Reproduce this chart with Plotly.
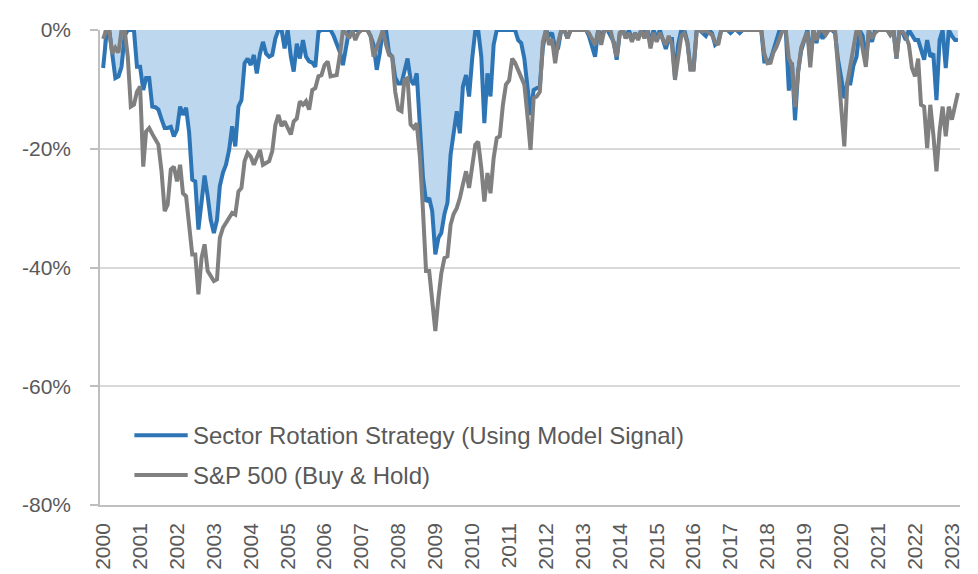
import pandas as pd
import plotly.graph_objects as go

# Monthly drawdowns (%), Jan 2000 .. Mar 2023
sector_rotation = [
    -6.4, -1, 0, -4, -8.1, -7.8, -6.2, -1, 0, 0, 0, -6.2,                      # 2000
    -6.2, -10.1, -8.1, -8.1, -12.9, -13, -13.4, -15, -16.5, -16.5, -16.3, -17.9,  # 2001
    -16.8, -12.9, -14.3, -13.1, -17.2, -25.2, -25.5, -33.6, -29, -24.5, -28, -32,  # 2002
    -34.2, -32, -26.3, -24, -22.7, -20.2, -16.2, -19.6, -12.9, -11.8, -5.6, -4.8,  # 2003
    -5.9, -4.2, -7.3, -4, -2, -4, -4.5, -4.2, -1.4, 0, 0, -3.1,                 # 2004
    0, -4.5, -7, -2.3, -4.8, -1.7, -4.5, -5.3, -5.5, -6.2, -0.3, 0,             # 2005
    0, 0, 0, -1, -2.3, -3.7, -5.9, -2.5, 0, 0, 0, 0,                           # 2006
    0, 0, 0, -1, -2.5, -6.7, -3.9, 0, 0, -3.9, -4.5, -8,                       # 2007
    -9, -9, -7, -4.8, -8.4, -9.2, -7.3, -16, -24.9, -28.9, -28.3, -30.5,        # 2008
    -37.8, -35, -34.2, -31, -29.1, -21, -17.6, -13.7, -17.4, -9.5, -7.6, -11.2,  # 2009
    -4.8, 0, 0, -4.5, -15.7, -7.3, -11.2, -2.5, 0, 0, 0, 0,                    # 2010
    0, 0, 0, -1.7, -2.2, -4.8, -9.2, -14.3, -10.1, -9.8, -9.5, -3,             # 2011
    0, -1, -0.5, -3, -3, 0, 0, -1.4, 0, 0, 0, 0,                               # 2012
    0, 0, -1, -3, -4.5, 0, -1, 0, 0, -1, -2, -5,                               # 2013
    -0.5, 0, -1.4, 0, -1.7, -0.5, -1.5, 0, -0.5, 0, -2, 0,                     # 2014
    -1.5, 0, -1.4, -3.2, -1.5, -1.5, -8, -2.5, 0, 0, -2, -6.5,                 # 2015
    -6.5, 0, 0, -0.5, -1, 0, -0.5, -2.5, -2, 0, 0, 0,                          # 2016
    -0.5, 0, 0, -0.5, 0, 0, 0, 0, 0, 0, 0, -5.3,                               # 2017
    -5.3, -5, -3.4, -2, 0, 0, 0, -10.2, -5.5, -15.2, -7, -3.5,                 # 2018
    -1.5, 0, -5, 0, -2.2, 0, -1.5, 0, 0, 0, -0.5, -5,                          # 2019
    -8, -11.5, -9, -9, -6, -4.5, 0, -1, -5.5, 0, -2, 0,                        # 2020
    0, 0, 0, 0, -0.8, 0, -4.8, 0, -0.5, -1.7, 0, -1,                           # 2021
    -1.7, -1.7, -3.4, -5, -1.7, -4.5, -4, -11.8, -1.7, 0, -6.4, 0,             # 2022
    -1, -1.7, -1.7,                                                            # 2023
]

sp500 = [
    -1.5, 0, 0, -4, -3, -3.8, 0, 0, -4.5, -12.9, -12.6, -10.4,                  # 2000
    -9.5, -23, -17.1, -16.5, -17.5, -18.5, -19.3, -23.8, -30.5, -29.4, -23.5, -23,  # 2001
    -25.5, -22.7, -27.5, -28, -32.5, -37.8, -37.8, -44.5, -38.4, -36.1, -40.6, -41.5,  # 2002
    -42.3, -42, -35, -33.3, -32.5, -31.5, -30.8, -31.1, -27.2, -26.6, -22.1, -20.7,  # 2003
    -21.3, -22.7, -21.5, -20.2, -22.7, -22.3, -22.1, -20.4, -16, -14.3, -16.2, -15.4,  # 2004
    -16.5, -17.6, -15.4, -14.9, -12, -12.6, -12, -13.4, -10.1, -9.8, -7.8, -7.6,  # 2005
    -5.9, -5.3, -7.8, -7.7, -7.6, -4.2, 0, -0.5, -1.4, 0, -1.7, -0.5,           # 2006
    0, 0, 0, -1, -4.5, -3, -1.4, 0, -2.5, -4.2, -4.5, -10.4,                    # 2007
    -13.4, -13.7, -8.4, -8.1, -15.9, -16.5, -15.7, -21.3, -30.5, -40.6, -40.6, -45.7,  # 2008
    -50.7, -45.1, -41, -38.4, -38.1, -32.8, -31, -30, -28.3, -26, -23.8, -26.6,  # 2009
    -22.7, -19.3, -18.8, -23.2, -28.9, -24.1, -27.5, -21.6, -18.2, -17.9, -12.6, -9.2,  # 2010
    -8.5, -4.8, -5.5, -6.7, -7.6, -9.2, -14.3, -20.2, -11.5, -11.2, -10.4, -2,   # 2011
    0, -2.5, -1.5, -5.6, -2, 0, 0, -1.4, 0, 0, 0, 0,                           # 2012
    0, 0, -0.5, -1.5, -2.5, 0, -2.5, 0, 0, 0, -2.3, -4.5,                      # 2013
    -0.5, 0, -1.4, -0.5, -2, -0.5, -1.7, 0, -1.4, 0, -3.1, -0.5,               # 2014
    -2, -0.5, -1.5, -2.5, -1, -2.5, -8.4, -4, -1, -0.5, -2.2, -6.7,            # 2015
    -6.7, 0, 0, -0.3, 0, -0.5, -0.8, -2, -2.5, 0, 0, 0,                        # 2016
    0, 0, 0, 0, 0, 0, 0, 0, 0, 0, 0, -4,                                       # 2017
    -5.6, -5.5, -3.8, -2.8, -1.5, 0, 0, -4.8, -5.9, -13, -7, -3,               # 2018
    -1.5, -0.3, -6.3, 0, -1.7, 0, 0, -0.8, 0, 0, 0, -6.4,                      # 2019
    -13, -19.6, -9, -5.9, -2.5, 0, -0.3, -3, -6.2, 0, -1.4, -0.5,              # 2020
    0, 0, 0, 0, -0.8, 0, -4.8, 0, -0.3, -1, -2.5, -6.4,                        # 2021
    -7.8, -4.8, -12.6, -12.9, -19.9, -12.6, -17.6, -23.8, -17.1, -12.9, -17.9, -12.9,  # 2022
    -15.1, -12.6, -10.6,                                                       # 2023
]

months = pd.date_range("2000-01-01", periods=len(sp500), freq="MS")
years = list(range(2000, 2024))
year_ticks = [pd.Timestamp(f"{y}-01-01") for y in years]
year_labels = [str(y) for y in years]
y_ticks = [0, -20, -40, -60, -80]
y_labels = ["0%", "-20%", "-40%", "-60%", "-80%"]
series_names = ["Sector Rotation Strategy (Using Model Signal)", "S&P 500 (Buy & Hold)"]

BLUE = "#2E75B6"
FILL = "#BDD7EE"
GRAY = "#808080"
TXT = "#595959"
GRID = "#D9D9D9"
FONT = "Liberation Sans"

fig = go.Figure()
fig.add_trace(go.Scatter(
    x=months, y=sector_rotation, mode="lines", name=series_names[0],
    line=dict(color=BLUE, width=4), fill="tozeroy", fillcolor=FILL,
    showlegend=False,
))
fig.add_trace(go.Scatter(
    x=months, y=sp500, mode="lines", name=series_names[1],
    line=dict(color=GRAY, width=4), showlegend=False,
))

# manual legend (line samples + text) inside the plot area
legend_rows = [(0.147, BLUE, series_names[0]), (0.063, GRAY, series_names[1])]
shapes = []
annotations = []
for ypos, col, name in legend_rows:
    shapes.append(dict(type="line", xref="paper", yref="paper",
                       x0=0.040, x1=0.102, y0=ypos, y1=ypos,
                       line=dict(color=col, width=4)))
    annotations.append(dict(xref="paper", yref="paper", x=0.106, y=ypos,
                            text=name, showarrow=False, xanchor="left",
                            yanchor="middle",
                            font=dict(family=FONT, size=24, color=TXT)))

fig.update_layout(
    width=978, height=574,
    margin=dict(l=100, r=18, t=30, b=69),
    paper_bgcolor="white", plot_bgcolor="white",
    shapes=shapes, annotations=annotations,
    xaxis=dict(
        range=[pd.Timestamp("1999-12-01"), pd.Timestamp("2023-03-22")],
        tickmode="array", tickvals=year_ticks, ticktext=year_labels,
        tickangle=-90, showgrid=False, zeroline=False,
        showline=True, linecolor="#BFBFBF", linewidth=1.5,
        ticks="", tickfont=dict(family=FONT, size=21, color=TXT),
        ticklabelstandoff=8, automargin=False,
    ),
    yaxis=dict(
        range=[-80, 0], tickmode="array", tickvals=y_ticks, ticktext=y_labels,
        showgrid=True, gridcolor=GRID, gridwidth=1.5, zeroline=False,
        showline=True, linecolor="#BFBFBF", linewidth=1.5,
        ticks="outside", ticklen=8, tickcolor="#BFBFBF", tickwidth=1.5,
        tickfont=dict(family=FONT, size=21, color=TXT),
        ticklabelstandoff=15, automargin=False,
    ),
)

fig.write_html("out.html", config={"displayModeBar": False},
               post_script="document.body.style.margin='0';")
